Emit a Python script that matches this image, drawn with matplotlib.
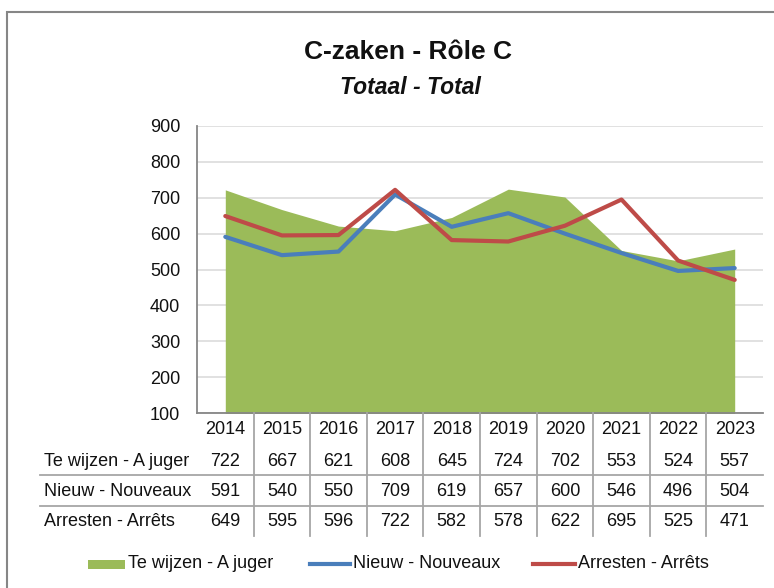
import matplotlib
matplotlib.use('Agg')
import matplotlib.pyplot as plt
from matplotlib.transforms import blended_transform_factory
from matplotlib.patches import Rectangle
from matplotlib.lines import Line2D

plt.rcParams['font.family'] = ['Liberation Sans', 'DejaVu Sans']

years = ['2014', '2015', '2016', '2017', '2018', '2019', '2020', '2021', '2022', '2023']
te_wijzen = [722, 667, 621, 608, 645, 724, 702, 553, 524, 557]
nieuw = [591, 540, 550, 709, 619, 657, 600, 546, 496, 504]
arresten = [649, 595, 596, 722, 582, 578, 622, 695, 525, 471]
series_labels = ['Te wijzen - A juger', 'Nieuw - Nouveaux', 'Arresten - Arrêts']
yticks = [100, 200, 300, 400, 500, 600, 700, 800, 900]
title = 'C-zaken - Rôle C'
subtitle = 'Totaal - Total'

GREEN = '#9BBB59'
BLUE = '#4A7EBB'
RED = '#BE4B48'
GRID = '#D9D9D9'
AXC = '#868686'
TXT = '#111111'
FS = 13

W, H = 774, 588
fig = plt.figure(figsize=(W / 100, H / 100), dpi=100)


def fx(px):
    return px / W


def fy(py):
    return 1 - py / H


ax = fig.add_axes([fx(197), fy(413), (763 - 197) / W, (413 - 126) / H])
x = list(range(len(years)))
ax.fill_between(x, te_wijzen, 0, color=GREEN, lw=0, zorder=1)
ax.plot(x, nieuw, color=BLUE, lw=3.0, solid_joinstyle='round', solid_capstyle='round', zorder=3)
ax.plot(x, arresten, color=RED, lw=3.0, solid_joinstyle='round', solid_capstyle='round', zorder=4)
ax.set_xlim(-0.5, len(years) - 0.5)
ax.set_ylim(yticks[0], yticks[-1])
ax.set_yticks(yticks)
ax.set_xticks([])
ax.tick_params(axis='y', length=0, pad=12, labelsize=FS, labelcolor=TXT)
ax.grid(axis='y', color=GRID, lw=1.1)
ax.set_axisbelow(True)
for s in ['top', 'right']:
    ax.spines[s].set_visible(False)
for s in ['left', 'bottom']:
    ax.spines[s].set_color(AXC)
    ax.spines[s].set_linewidth(1.3)

trans = blended_transform_factory(ax.transData, fig.transFigure)

# data table
row_y = [461, 491, 521]
for i, yr in enumerate(years):
    ax.text(i, fy(430), yr, transform=trans, ha='center', va='center', fontsize=FS, color=TXT)
for r, (lab, vals) in enumerate(zip(series_labels, [te_wijzen, nieuw, arresten])):
    fig.text(fx(44), fy(row_y[r]), lab, ha='left', va='center', fontsize=FS, color=TXT)
    for i, v in enumerate(vals):
        ax.text(i, fy(row_y[r]), str(v), transform=trans, ha='center', va='center', fontsize=FS, color=TXT)

for i in range(len(years) - 1):
    b = i + 0.5
    fig.add_artist(Line2D([b, b], [fy(413), fy(536)], transform=trans, color='#A6A6A6', lw=1.3))
for py in [475, 506]:
    fig.add_artist(Line2D([fx(40), fx(763)], [fy(py), fy(py)], transform=fig.transFigure, color='#A6A6A6', lw=1.3))

# titles
fig.text(fx(408), fy(52), title, ha='center', va='center', fontsize=19, weight='bold', color=TXT)
fig.text(fx(410), fy(88), subtitle, ha='center', va='center', fontsize=16.5, weight='bold', style='italic', color=TXT)

# legend
ly = 564
fig.add_artist(Rectangle((fx(88), fy(ly + 4.5)), 37 / W, 9 / H, transform=fig.transFigure, color=GREEN, lw=0))
fig.text(fx(128), fy(ly), series_labels[0], ha='left', va='center', fontsize=FS, color=TXT)
fig.add_artist(Line2D([fx(310), fx(350)], [fy(ly), fy(ly)], transform=fig.transFigure, color=BLUE, lw=3.0))
fig.text(fx(353), fy(ly), series_labels[1], ha='left', va='center', fontsize=FS, color=TXT)
fig.add_artist(Line2D([fx(533), fx(575)], [fy(ly), fy(ly)], transform=fig.transFigure, color=RED, lw=3.0))
fig.text(fx(578), fy(ly), series_labels[2], ha='left', va='center', fontsize=FS, color=TXT)

# chart border
fig.add_artist(Rectangle((fx(7), fy(620)), (800 - 7) / W, (620 - 12) / H, transform=fig.transFigure,
                         fill=False, edgecolor=AXC, lw=1.5))

fig.savefig('out.png', dpi=100)
